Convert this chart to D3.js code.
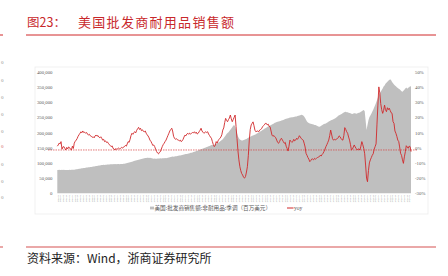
<!DOCTYPE html>
<html lang="zh">
<head>
<meta charset="UTF-8">
<title>美国批发商耐用品销售额</title>
<script src="https://d3js.org/d3.v7.min.js"></script>
<style>
  body { margin: 0; background: #ffffff; }
  svg { display: block; }
</style>
</head>
<body>
<div id="chart"></div>
<script>
// monthly series, first month 1993-01
var startMonth = "1993-01";

// 美国:批发商销售额:非耐用品:季调 (百万美元), one row per year
var sales = [
  76500, 76800, 77200, 76900, 77000, 77400, 76800, 77100, 76600, 76900, 77000, 76700,
  76900, 77200, 77000, 77500, 77800, 77200, 77600, 78200, 78800, 79300, 79800, 80400,
  80800, 81500, 82000, 82400, 83000, 83500, 83800, 84500, 84900, 85300, 85800, 86200,
  86900, 87400, 87800, 88500, 89000, 89600, 90100, 90500, 91200, 91800, 92300, 92800,
  93200, 93600, 93400, 94000, 94300, 94800, 95000, 94600, 95200, 95500, 95300, 95800,
  96000, 95600, 96100, 95800, 96300, 96000, 95700, 96200, 96000, 96500, 96800, 97500,
  98200, 99000, 99800, 100500, 101400, 102000, 103000, 104000, 105000, 106200, 107000, 108000,
  108800, 109600, 110500, 111400, 112000, 112800, 113500, 114200, 115000, 115800, 116500, 117000,
  117200, 116500, 116800, 115800, 115500, 114800, 114000, 114300, 113600, 114000, 114500, 114200,
  114800, 115000, 114600, 115300, 115000, 115500, 116000, 115700, 116500, 117200, 118000, 118800,
  119500, 120000, 120800, 120200, 121000, 121800, 122000, 122800, 123200, 124000, 124500, 125300,
  126000, 126800, 127500, 128200, 129000, 129600, 130500, 131200, 132000, 133000, 133800, 134500,
  135500, 136500, 137800, 139000, 140000, 141200, 142500, 143800, 145000, 146000, 147000, 148200,
  149500, 150500, 152000, 153500, 155000, 156000, 157500, 158500, 159000, 158000, 160000, 161500,
  163000, 164500, 166000, 168000, 170000, 172500, 175000, 178000, 182000, 186000, 190000, 195000,
  198000, 201000, 205000, 209000, 213000, 217000, 222000, 225000, 220000, 210000, 198000, 188000,
  181000, 177000, 175000, 173500, 174000, 175000, 176000, 178000, 179000, 181000, 183000, 185000,
  186000, 187500, 189000, 190500, 192000, 193000, 194500, 196500, 198000, 200000, 202000, 204000,
  206000, 208000, 210000, 212500, 214000, 216000, 218000, 219500, 221000, 223000, 224500, 226000,
  228000, 230000, 232000, 233000, 234500, 235000, 236000, 237000, 238000, 239500, 240000, 241000,
  243000, 244000, 245500, 246000, 247000, 248000, 249000, 249500, 250000, 250500, 251000, 252000,
  252500, 253000, 254000, 255000, 256000, 257000, 258000, 257500, 256000, 253000, 248000, 242000,
  236000, 233000, 231000, 230000, 229000, 228000, 227000, 226000, 225000, 224500, 223000, 221000,
  219500, 219000, 220000, 222000, 224000, 226000, 228000, 229000, 230000, 232000, 234000, 236000,
  238000, 239500, 241000, 242000, 243500, 245000, 247000, 249000, 252000, 255000, 257000, 258000,
  260000, 262000, 264000, 266000, 267500, 268000, 267000, 266500, 265000, 264000, 263500, 262000,
  261000, 262500, 263000, 263000, 262000, 262500, 264000, 265000, 266000, 268000, 270000, 272000,
  274000, 270000, 240000, 208000, 225000, 240000, 250000, 256000, 262000, 268000, 275000, 282000,
  290000, 298000, 306000, 315000, 322000, 329000, 334000, 340000, 345000, 351000, 355000, 360000,
  364000, 367000, 370000, 373000, 375000, 372000, 366000, 362000, 358000, 355000, 352000, 349000,
  346000, 344000, 342000, 339000, 336000, 334000, 337000, 341000, 345000, 348000, 344000, 347000,
  349000, 352000, 351000
];

// yoy (%), same months
var yoy = [
  1.0, 1.8, 3.0, 2.5, 4.0, -1.0, 0.5, 0.7, -0.5, -1.5, 0.2, -0.8,
  0.5, 0.0, -1.0, -1.5, 1.0, -0.5, 3.0, 4.2, 5.0, 6.0, 7.5, 8.5,
  9.5, 10.5, 9.8, 11.0, 10.0, 10.2, 9.5, 10.0, 9.0, 8.3, 8.8, 7.8,
  7.5, 6.8, 7.2, 6.5, 7.8, 8.3, 7.6, 8.0, 7.0, 6.5, 7.2, 6.2,
  5.0, 5.5, 4.0, 4.5, 3.5, 3.8, 2.9, 2.0, 1.5, 0.7, 1.2, -0.5,
  -0.8, -1.5, -0.5, -1.2, -0.6, -0.2, -0.8, -0.4, 0.2, -0.3, 0.5, 0.7,
  1.5, 1.0, 2.5, 4.0, 3.5, 5.5, 8.0, 9.5, 8.8, 10.0, 10.5, 9.8,
  11.5, 12.5, 13.4, 12.0, 12.8, 11.2, 11.8, 10.8, 10.5, 11.0, 9.5, 8.5,
  7.7, 6.5, 5.0, 4.2, 2.9, 1.5, 1.8, 0.7, -1.0, -2.5, -3.5, -4.1,
  -3.0, -2.6, -1.0, 0.7, 2.0, 2.9, 4.0, 5.0, 6.5, 8.0, 9.5, 11.0,
  12.0, 12.8, 11.0, 7.5, 6.2, 5.5, 6.0, 5.2, 5.0, 4.5, 5.0, 4.0,
  4.5, 5.5, 7.0, 8.3, 7.8, 9.0, 9.5, 8.8, 9.6, 9.0, 9.5, 10.0,
  9.8, 10.5, 9.5, 10.2, 9.0, 9.5, 10.5, 11.5, 12.8, 11.0, 10.2, 9.5,
  10.0, 10.5, 10.0, 10.5, 9.0, 8.0, 7.0, 6.2, 4.0, 2.0, 0.7, 1.5,
  4.0, 3.0, 4.5, 5.5, 6.2, 7.0, 8.5, 11.6, 13.0, 16.5, 19.3, 18.0,
  17.1, 18.5, 19.5, 21.5, 19.0, 17.1, 18.5, 20.0, 21.5, 14.0, 6.0, -2.0,
  -8.0, -12.5, -15.0, -17.0, -18.0, -19.5, -20.0, -19.0, -16.0, -12.5, -5.0, 5.0,
  12.0, 15.0, 16.0, 17.0, 14.5, 11.5, 10.5, 10.8, 11.0, 10.5, 11.6, 12.0,
  12.5, 13.8, 14.5, 15.0, 16.0, 16.0, 15.0, 15.5, 14.0, 13.8, 11.0, 8.3,
  7.5, 8.0, 7.2, 6.5, 5.0, 3.5, 2.9, 4.0, 5.5, 6.2, 5.0, 4.0,
  2.9, 3.5, 1.0, -0.5, -2.2, 1.0, 5.0, 4.2, 3.5, 4.0, 5.5, 4.5,
  5.0, 6.2, 5.5, 6.5, 7.9, 7.0, 6.0, 5.5, 5.0, 3.0, 0.5, -3.7,
  -5.0, -6.5, -7.5, -9.2, -8.5, -7.5, -7.4, -8.0, -7.0, -7.5, -7.0, -6.5,
  -6.2, -5.9, -5.0, -5.5, -4.5, -3.7, -2.5, -1.0, 0.7, 2.0, 3.5, 5.0,
  8.0, 11.6, 9.0, 6.0, 5.0, 5.5, 5.0, 5.7, 6.0, 6.5, 7.8, 7.2,
  6.0, 5.2, 5.0, 8.0, 13.2, 12.0, 10.5, 9.5, 7.0, 5.0, 2.0, -1.5,
  -1.0, 0.5, 1.8, 0.5, -0.5, -1.5, -1.0, -0.8, -1.5, 1.0, 4.0, 2.0,
  -0.4, -4.0, -11.4, -20.0, -22.4, -15.0, -10.0, -8.0, -6.5, -5.0, -4.0, -1.0,
  0.7, 2.5, 15.0, 28.0, 40.0, 36.0, 29.0, 25.0, 22.6, 24.5, 28.0, 25.0,
  23.7, 26.3, 25.0, 26.0, 24.5, 23.0, 22.6, 17.1, 16.0, 11.0, 9.5, 7.5,
  5.0, 4.0, 0.5, -3.7, -5.0, -8.0, -10.3, -6.0, -2.6, 1.3, 0.5, -0.4,
  1.0, 0.7, -2.6
];

var leftTicks = [0, 50000, 100000, 150000, 200000, 250000, 300000, 350000, 400000];
var rightTicks = [-30, -20, -10, 0, 10, 20, 30, 40, 50];
var refLine = -1.5;   // red dashed reference level (right axis, %)

var salesLabel = "美国:批发商销售额:非耐用品:季调（百万美元）";
var yoyLabel = "yoy";

var W = 448, H = 276;
var plot = {left: 57.3, right: 411, top: 71.7, bottom: 193.3};

var parseM = d3.timeParse("%Y-%m");
var months = sales.map(function(d, i) { return d3.timeMonth.offset(parseM(startMonth), i); });

var svg = d3.select("#chart").append("svg")
    .attr("width", W)
    .attr("height", H);

// header / footer
svg.append("line").attr("x1", 26).attr("x2", 436).attr("y1", 35).attr("y2", 35)
    .attr("stroke", "#d0282a").attr("stroke-width", 1);
svg.append("line").attr("x1", 0).attr("x2", 3).attr("y1", 35).attr("y2", 35)
    .attr("stroke", "#d0282a").attr("stroke-width", 1);
svg.append("text").attr("x", 27).attr("y", 27)
    .style("font-family", "'Noto Sans CJK SC'").style("font-size", "12.5px")
    .attr("fill", "#c8282b").text("图23：");
svg.append("text").attr("x", 78).attr("y", 27)
    .style("font-family", "'Noto Sans CJK SC'").style("font-size", "13px")
    .style("letter-spacing", "1.3px")
    .attr("fill", "#c8282b").text("美国批发商耐用品销售额");

svg.append("line").attr("x1", 26).attr("x2", 436).attr("y1", 247).attr("y2", 247)
    .attr("stroke", "#e38b8b").attr("stroke-width", 1.5);
svg.append("line").attr("x1", 0).attr("x2", 3).attr("y1", 247).attr("y2", 247)
    .attr("stroke", "#e38b8b").attr("stroke-width", 1.5);
svg.append("text").attr("x", 27).attr("y", 263)
    .style("font-family", "'Noto Sans CJK SC'").style("font-size", "12px")
    .attr("fill", "#222").text("资料来源：Wind，浙商证券研究所");

// cut-off labels from the neighbouring chart on the left edge
var edgeY = [63, 81, 98, 115, 132, 147, 165, 182, 198];
svg.selectAll("text.edge").data(edgeY).enter().append("text")
    .attr("class", "edge")
    .attr("x", 3.5).attr("y", function(d) { return d; })
    .attr("text-anchor", "end").attr("dominant-baseline", "middle")
    .style("font-family", "'Liberation Serif'").style("font-size", "5px")
    .attr("fill", function(d, i) { return i === 5 ? "#d06060" : "#8c8c8c"; })
    .text("0");

// chart frame
svg.append("rect").attr("x", 35).attr("y", 67).attr("width", 393).attr("height", 147)
    .attr("fill", "none").attr("stroke", "#ededed").attr("stroke-width", 0.8);

var x = d3.scaleTime()
    .domain([months[0], months[months.length - 1]])
    .range([plot.left, plot.right]);
var yL = d3.scaleLinear().domain([0, 400000]).range([plot.bottom, plot.top]);
var yR = d3.scaleLinear().domain([-30, 50]).range([plot.bottom, plot.top]);

// area
var area = d3.area()
    .x(function(d, i) { return x(months[i]); })
    .y0(yL(0))
    .y1(function(d) { return yL(d); });
svg.append("path").datum(sales)
    .attr("d", area)
    .attr("fill", "#bfbfbf");

// dashed reference
svg.append("line")
    .attr("x1", 48).attr("x2", 418)
    .attr("y1", yR(refLine)).attr("y2", yR(refLine))
    .attr("stroke", "#d9403f").attr("stroke-width", 0.7)
    .attr("stroke-dasharray", "1.5,1");

// yoy line
var line = d3.line()
    .x(function(d, i) { return x(months[i]); })
    .y(function(d) { return yR(d); });
svg.append("path").datum(yoy)
    .attr("d", line)
    .attr("fill", "none")
    .attr("stroke", "#d0282a")
    .attr("stroke-width", 0.9)
    .attr("stroke-linejoin", "round");

// axes
var gl = svg.append("g")
    .attr("transform", "translate(" + 52.5 + ",0)")
    .call(d3.axisLeft(yL).tickValues(leftTicks).tickSize(0).tickPadding(0).tickFormat(d3.format(",")));
gl.select(".domain").remove();
gl.selectAll("text")
    .style("font-family", "'Liberation Serif'").style("font-size", "4.8px")
    .attr("fill", "#595959");

var gr = svg.append("g")
    .attr("transform", "translate(" + 415 + ",0)")
    .call(d3.axisRight(yR).tickValues(rightTicks).tickSize(0).tickPadding(0)
      .tickFormat(function(d) { return d + "%"; }));
gr.select(".domain").remove();
gr.selectAll("text")
    .style("font-family", "'Liberation Serif'").style("font-size", "4.8px")
    .attr("fill", "#595959");

var xTicks = months.filter(function(d, i) { return i % 3 === 0; });
var gx = svg.append("g")
    .attr("transform", "translate(0," + 195 + ")")
    .call(d3.axisBottom(x).tickValues(xTicks).tickSize(0).tickPadding(0)
      .tickFormat(d3.timeFormat("%Y-%m")));
gx.select(".domain").remove();
gx.selectAll("text")
    .attr("transform", "rotate(-90)")
    .attr("text-anchor", "end")
    .attr("dy", "0.35em")
    .attr("y", 0).attr("x", 0)
    .style("font-family", "'Liberation Serif'").style("font-size", "2.2px")
    .attr("fill", "#8c8c8c");

// legend
svg.append("rect").attr("x", 150).attr("y", 206.6).attr("width", 4).attr("height", 2.8)
    .attr("fill", "#bfbfbf");
svg.append("text").attr("x", 154.5).attr("y", 208.2)
    .attr("dominant-baseline", "middle")
    .style("font-family", "'Noto Sans CJK SC'").style("font-size", "5.6px")
    .attr("fill", "#595959").text(salesLabel);
svg.append("line").attr("x1", 287).attr("x2", 293.5).attr("y1", 208).attr("y2", 208)
    .attr("stroke", "#d0282a").attr("stroke-width", 1);
svg.append("text").attr("x", 294).attr("y", 208.4)
    .attr("dominant-baseline", "middle")
    .style("font-family", "'Liberation Serif'").style("font-size", "5.6px")
    .attr("fill", "#595959").text(yoyLabel);
</script>
</body>
</html>
